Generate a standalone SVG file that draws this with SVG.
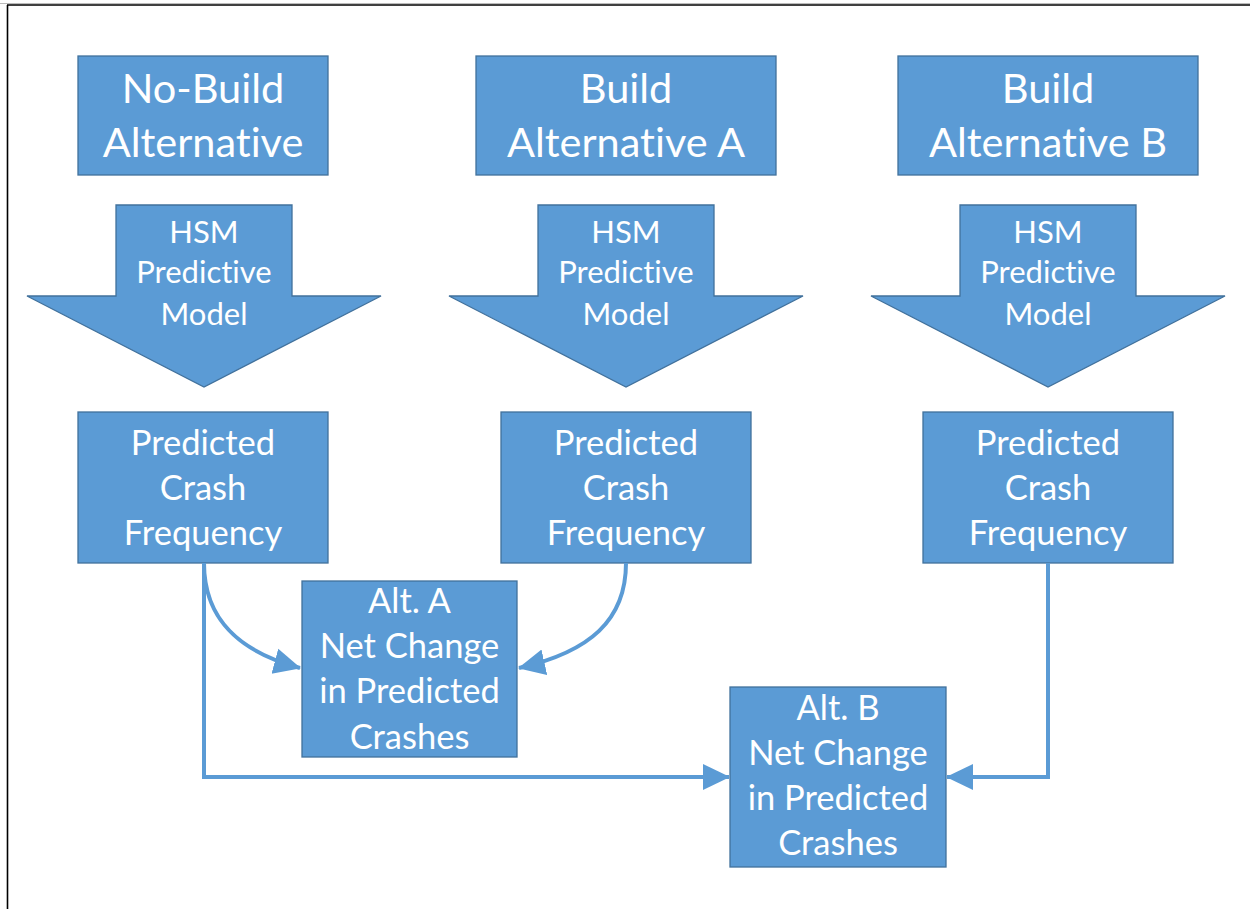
<svg xmlns="http://www.w3.org/2000/svg" width="1250" height="909" viewBox="0 0 1250 909">
<defs>
<style>
.box{fill:#5B9BD5;stroke:#41719C;stroke-width:1.3}
.t{font-family:Lato,"Open Sans","Liberation Sans",sans-serif;fill:#FFFFFF;text-anchor:middle;font-variant-ligatures:none}
.big{font-size:41.5px}
.mid{font-size:34.5px}
.sm{font-size:31px}
.con{fill:none;stroke:#5B9BD5;stroke-width:4}
</style>
<marker id="ah" markerUnits="userSpaceOnUse" markerWidth="28" markerHeight="28" viewBox="0 0 28 28" refX="26" refY="14" orient="auto">
<path d="M0,1 L27,14 L0,27 Z" fill="#5B9BD5"/>
</marker>
</defs>
<rect width="1250" height="909" fill="#FFFFFF"/>
<g id="frame">
<line x1="0" y1="3.5" x2="1250" y2="3.5" stroke="#BBBBBB" stroke-width="1"/>
<line x1="7" y1="5" x2="1250" y2="5" stroke="#000000" stroke-width="1.6"/>
<line x1="7.5" y1="5" x2="7.5" y2="909" stroke="#000000" stroke-width="1.6"/>
</g>
<g id="nobuild">
<rect class="box" x="78" y="56" width="250" height="119"/>
<text class="t big" x="203" y="103">No-Build</text>
<text class="t big" x="203" y="157">Alternative</text>
</g>
<g id="buildA">
<rect class="box" x="476" y="56" width="300" height="119"/>
<text class="t big" x="626" y="103">Build</text>
<text class="t big" x="626" y="157">Alternative A</text>
</g>
<g id="buildB">
<rect class="box" x="898" y="56" width="300" height="119"/>
<text class="t big" x="1048" y="103">Build</text>
<text class="t big" x="1048" y="157">Alternative B</text>
</g>
<g id="hsm1">
<path class="box" d="M116,205 H292 V296 H381 L204,387 L27,296 H116 Z"/>
<text class="t sm" x="204" y="243">HSM</text>
<text class="t sm" x="204" y="283">Predictive</text>
<text class="t sm" x="204" y="325">Model</text>
</g>
<g id="hsm2">
<path class="box" d="M538,205 H714 V296 H803 L626,387 L449,296 H538 Z"/>
<text class="t sm" x="626" y="243">HSM</text>
<text class="t sm" x="626" y="283">Predictive</text>
<text class="t sm" x="626" y="325">Model</text>
</g>
<g id="hsm3">
<path class="box" d="M960,205 H1136 V296 H1225 L1048,387 L871,296 H960 Z"/>
<text class="t sm" x="1048" y="243">HSM</text>
<text class="t sm" x="1048" y="283">Predictive</text>
<text class="t sm" x="1048" y="325">Model</text>
</g>
<g id="pcf1">
<rect class="box" x="78" y="412" width="250" height="151"/>
<text class="t mid" x="203" y="455">Predicted</text>
<text class="t mid" x="203" y="500">Crash</text>
<text class="t mid" x="203" y="545">Frequency</text>
</g>
<g id="pcf2">
<rect class="box" x="501" y="412" width="250" height="151"/>
<text class="t mid" x="626" y="455">Predicted</text>
<text class="t mid" x="626" y="500">Crash</text>
<text class="t mid" x="626" y="545">Frequency</text>
</g>
<g id="pcf3">
<rect class="box" x="923" y="412" width="250" height="151"/>
<text class="t mid" x="1048" y="455">Predicted</text>
<text class="t mid" x="1048" y="500">Crash</text>
<text class="t mid" x="1048" y="545">Frequency</text>
</g>
<g id="altA">
<rect class="box" x="302" y="581" width="215" height="176"/>
<text class="t mid" x="409.5" y="613">Alt. A</text>
<text class="t mid" x="409.5" y="658">Net Change</text>
<text class="t mid" x="409.5" y="703">in Predicted</text>
<text class="t mid" x="409.5" y="749">Crashes</text>
</g>
<g id="altB">
<rect class="box" x="730" y="687" width="216" height="180"/>
<text class="t mid" x="838" y="720">Alt. B</text>
<text class="t mid" x="838" y="765">Net Change</text>
<text class="t mid" x="838" y="810">in Predicted</text>
<text class="t mid" x="838" y="855">Crashes</text>
</g>
<g id="connectors">
<path class="con" d="M204,563 C204,620 240,652 300,668" marker-end="url(#ah)"/>
<path class="con" d="M626,563 C626,620 590,652 519,668" marker-end="url(#ah)"/>
<path class="con" d="M204,563 V777 H729" marker-end="url(#ah)"/>
<path class="con" d="M1048,563 V777 H947" marker-end="url(#ah)"/>
</g>
</svg>
